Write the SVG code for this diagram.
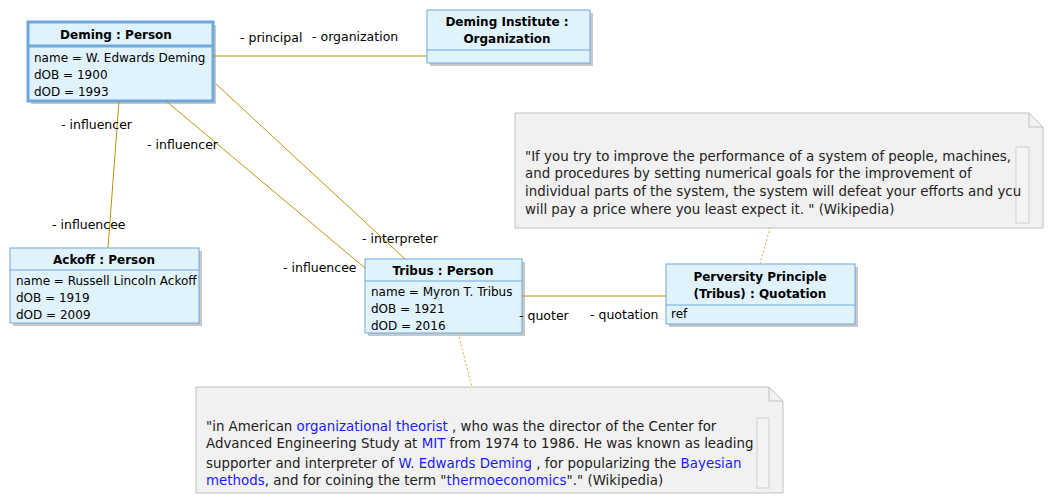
<svg xmlns="http://www.w3.org/2000/svg" width="1054" height="503" viewBox="0 0 1054 503">
<style>
text{font-family:"DejaVu Sans",Verdana,sans-serif;font-size:12px;fill:#000}
.h{font-weight:bold;text-anchor:middle}
.box{fill:#e0f3fc;stroke:#6fa8dc;stroke-width:1}
.sh{fill:#c8c8c8}
.ln{stroke:#6fa8dc;stroke-width:1}
.c{stroke:#b8960c;stroke-width:1;fill:none}
.d{stroke:#d4b040;stroke-width:1;stroke-dasharray:2,2;fill:none}
.note{fill:#f1f1f1;stroke:#c0c0c0}
.n{font-size:13.4px;fill:#222}
.a{fill:#1a1aff}
.sb{fill:#f4f4f4;stroke:#d0d0d0}
.l{font-size:12.5px}
</style>
<g id="deming">
<rect class="sh" x="31" y="25" width="185" height="79"/>
<rect class="box" x="28" y="22" width="185" height="79" style="stroke-width:3"/>
<line class="ln" x1="28" y1="46" x2="213" y2="46" style="stroke-width:3"/>
<text class="h" x="116" y="39">Deming : Person</text>
<text x="34" y="62">name = W. Edwards Deming</text>
<text x="34" y="79">dOB = 1900</text>
<text x="34" y="96">dOD = 1993</text>
</g>
<g id="institute">
<rect class="sh" x="430" y="13" width="163" height="53"/>
<rect class="box" x="427" y="10" width="163" height="53"/>
<line class="ln" x1="427" y1="50" x2="590" y2="50"/>
<text class="h" x="507" y="26">Deming Institute :</text>
<text class="h" x="507" y="43">Organization</text>
</g>
<g id="ackoff">
<rect class="sh" x="13" y="251" width="189" height="75"/>
<rect class="box" x="10" y="248" width="189" height="75"/>
<line class="ln" x1="10" y1="270" x2="199" y2="270"/>
<text class="h" x="104" y="264">Ackoff : Person</text>
<text x="16" y="285">name = Russell Lincoln Ackoff</text>
<text x="16" y="302">dOB = 1919</text>
<text x="16" y="319">dOD = 2009</text>
</g>
<g id="tribus">
<rect class="sh" x="368" y="262" width="157" height="74"/>
<rect class="box" x="365" y="259" width="157" height="74"/>
<line class="ln" x1="365" y1="281" x2="522" y2="281"/>
<text class="h" x="443" y="275">Tribus : Person</text>
<text x="371" y="296">name = Myron T. Tribus</text>
<text x="371" y="313">dOB = 1921</text>
<text x="371" y="330">dOD = 2016</text>
</g>
<g id="perversity">
<rect class="sh" x="669" y="267" width="189" height="60"/>
<rect class="box" x="666" y="264" width="189" height="60"/>
<line class="ln" x1="666" y1="305" x2="855" y2="305"/>
<text class="h" x="760" y="281">Perversity Principle</text>
<text class="h" x="760" y="298">(Tribus) : Quotation</text>
<text x="671" y="318">ref</text>
</g>
<g id="note1">
<path class="note" d="M515,113 H1029 L1043,127 V228 H515 Z"/>
<path d="M1029,113 V127 H1043" fill="none" stroke="#c0c0c0"/>
<rect class="sb" x="1016" y="147" width="13" height="76"/>
<text class="n" x="525" y="161">"If you try to improve the performance of a system of people, machines,</text>
<text class="n" x="525" y="178">and procedures by setting numerical goals for the improvement of</text>
<text class="n" x="525" y="196">individual parts of the system, the system will defeat your efforts and ycu</text>
<text class="n" x="525" y="214">will pay a price where you least expect it.  " (Wikipedia)</text>
</g>
<g id="note2">
<path class="note" d="M196,387 H769 L783,401 V493 H196 Z"/>
<path d="M769,387 V401 H783" fill="none" stroke="#c0c0c0"/>
<rect class="sb" x="757" y="418" width="12" height="70"/>
<text class="n" x="206" y="431">"in American <tspan class="a">organizational theorist</tspan>  , who was the director of the Center for</text>
<text class="n" x="206" y="448">Advanced Engineering Study at  <tspan class="a">MIT</tspan> from 1974 to 1986. He was known as leading</text>
<text class="n" x="206" y="468">supporter and interpreter of  <tspan class="a">W. Edwards Deming</tspan> , for popularizing the  <tspan class="a">Bayesian</tspan></text>
<text class="n" x="206" y="485"><tspan class="a">methods</tspan>, and for coining the term "<tspan class="a">thermoeconomics</tspan>"." (Wikipedia)</text>
</g>
<g id="connectors">
<line class="c" x1="213" y1="56" x2="427" y2="56"/>
<line class="c" x1="119" y1="101" x2="108" y2="248"/>
<line class="c" x1="166" y1="101" x2="365" y2="268"/>
<line class="c" x1="216" y1="84" x2="405" y2="259"/>
<line class="c" x1="522" y1="296" x2="666" y2="296"/>
<line class="d" x1="458" y1="333" x2="472" y2="387"/>
<line class="d" x1="760" y1="264" x2="770" y2="228"/>
<text class="l" x="240" y="42">- principal</text>
<text class="l" x="312" y="41">- organization</text>
<text class="l" x="61" y="129">- influencer</text>
<text class="l" x="52" y="229">- influencee</text>
<text class="l" x="147" y="149">- influencer</text>
<text class="l" x="362" y="243">- interpreter</text>
<text class="l" x="283" y="272">- influencee</text>
<text class="l" x="519" y="320">- quoter</text>
<text class="l" x="590" y="319">- quotation</text>
</g>
</svg>
